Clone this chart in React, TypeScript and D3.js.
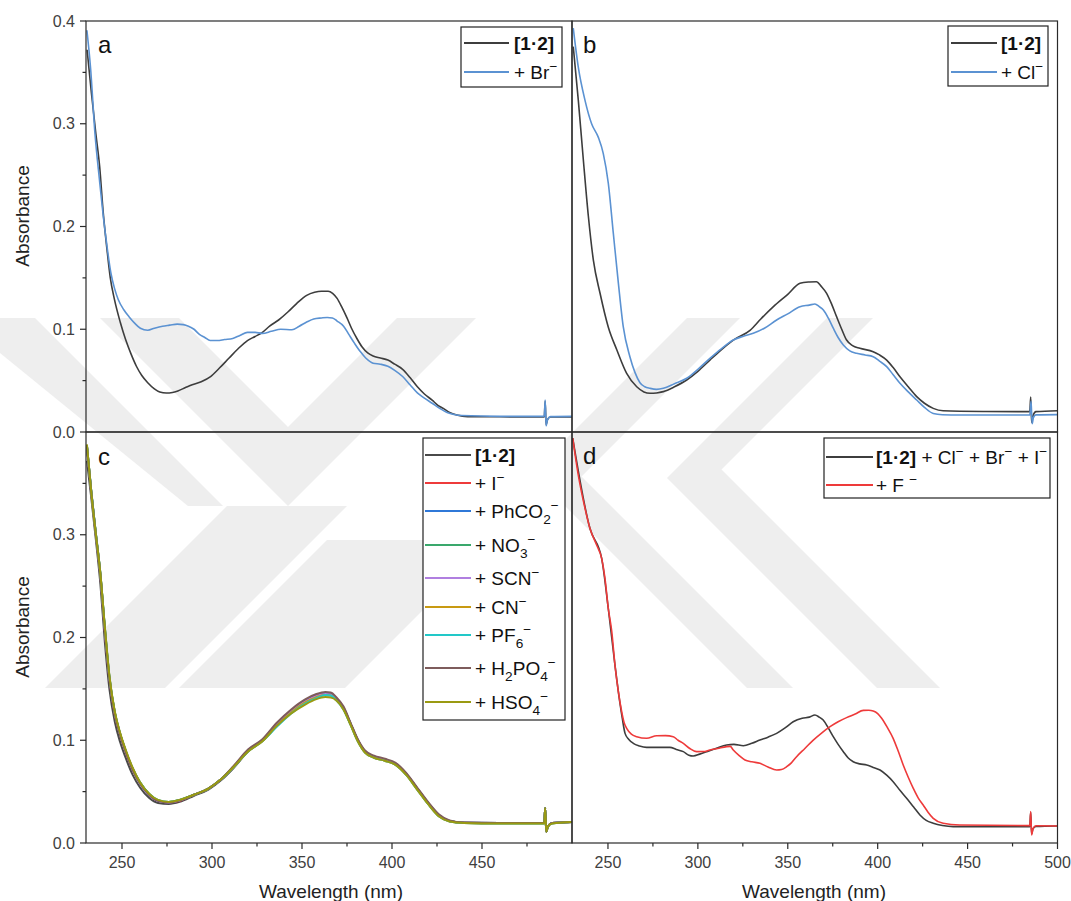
import React from 'react';
import * as d3 from 'd3';

type Pt = [number, number];

const X_DOMAIN: [number, number] = [230, 500];
const Y_DOMAIN: [number, number] = [0, 0.4];
const Y_TICKS = [0, 0.1, 0.2, 0.3, 0.4];
const Y_MINOR = [0.05, 0.15, 0.25, 0.35];
const X_TICKS = [250, 300, 350, 400, 450, 500];
const X_MINOR = [275, 325, 375, 425, 475];

// Panel a
const A_COMPLEX: Pt[] = [[230.6, 0.372], [233, 0.33], [235.5, 0.29], [237.6, 0.258], [239.5, 0.215], [241.7, 0.177], [243.5, 0.150], [245.8, 0.129], [249, 0.107], [252, 0.090], [255, 0.076], [258, 0.064], [261, 0.055], [264.3, 0.048], [268, 0.042], [271, 0.039], [274.6, 0.038], [278, 0.0385], [281, 0.040], [285, 0.043], [289, 0.046], [294, 0.049], [299.2, 0.054], [304, 0.062], [309.5, 0.072], [314.5, 0.081], [319.7, 0.089], [324, 0.093], [328, 0.097], [332, 0.103], [337, 0.109], [342.3, 0.117], [347, 0.125], [352.6, 0.133], [357, 0.136], [360.8, 0.137], [364.5, 0.137], [367, 0.135], [369.5, 0.130], [372, 0.122], [375, 0.111], [377.5, 0.101], [380.5, 0.091], [383.3, 0.083], [386.5, 0.077], [389.5, 0.074], [393.5, 0.072], [397.7, 0.070], [401.5, 0.066], [405.9, 0.061], [410, 0.053], [414.1, 0.044], [418, 0.037], [422.3, 0.031], [425.5, 0.026], [428.5, 0.023], [432, 0.019], [436, 0.0165], [442, 0.015], [460, 0.0148], [484.6, 0.0146], [485.1, 0.030], [485.6, 0.007], [486.4, 0.012], [488, 0.0146], [500, 0.0146]];
const A_BR: Pt[] = [[230.5, 0.391], [232.5, 0.355], [235, 0.29], [237.5, 0.245], [239.6, 0.21], [241.5, 0.183], [243.8, 0.155], [245.8, 0.140], [247.9, 0.129], [251, 0.119], [254, 0.112], [257, 0.106], [260.2, 0.101], [264.3, 0.099], [268, 0.101], [272.5, 0.103], [276.5, 0.104], [280.7, 0.105], [284, 0.1045], [286.9, 0.103], [290, 0.100], [293, 0.095], [296, 0.092], [299, 0.089], [303, 0.089], [307, 0.090], [311.5, 0.091], [315.5, 0.094], [319.7, 0.097], [324, 0.097], [328, 0.096], [333, 0.098], [338.2, 0.100], [344.4, 0.0995], [348.5, 0.103], [352.6, 0.107], [356.5, 0.110], [360.8, 0.111], [364, 0.1115], [366.9, 0.111], [369.5, 0.108], [373.1, 0.103], [376, 0.095], [379.3, 0.086], [382.5, 0.078], [385.4, 0.072], [389.5, 0.067], [393.5, 0.066], [397.7, 0.064], [401.5, 0.060], [405.9, 0.054], [410, 0.046], [414.1, 0.038], [418, 0.033], [422.3, 0.028], [426.5, 0.023], [430.6, 0.019], [434.5, 0.017], [438.8, 0.016], [460, 0.0152], [484.6, 0.0152], [485.1, 0.031], [485.6, 0.006], [486.4, 0.012], [488, 0.015], [500, 0.0152]];

// Panel b
const B_COMPLEX: Pt[] = [[230.7, 0.375], [233.5, 0.323], [236.3, 0.265], [239.1, 0.210], [241.9, 0.167], [245.6, 0.135], [250.2, 0.102], [254.9, 0.080], [260.4, 0.057], [266, 0.044], [270, 0.039], [273.4, 0.0377], [277, 0.038], [280.8, 0.0393], [287, 0.044], [293.8, 0.0506], [300, 0.059], [306.7, 0.070], [313, 0.080], [319.7, 0.0895], [329, 0.099], [335, 0.110], [342, 0.122], [350, 0.134], [356.8, 0.1447], [362, 0.146], [366, 0.1463], [368.5, 0.142], [371.6, 0.135], [374.5, 0.124], [377.2, 0.112], [380, 0.100], [382.7, 0.0895], [386, 0.084], [390.1, 0.0814], [397.5, 0.0782], [401, 0.075], [405, 0.070], [408.5, 0.063], [412.4, 0.0538], [417, 0.044], [421.7, 0.0344], [426, 0.028], [430.9, 0.023], [436.4, 0.0207], [460, 0.020], [484.6, 0.0198], [485.1, 0.034], [485.6, 0.0094], [486.4, 0.016], [488, 0.0198], [500, 0.0207]];
const B_CL: Pt[] = [[230.7, 0.393], [233.5, 0.355], [237.2, 0.323], [240.9, 0.300], [244.6, 0.287], [247.4, 0.271], [250.2, 0.242], [253, 0.193], [255.8, 0.1447], [258.5, 0.1025], [262.2, 0.0733], [265, 0.058], [267.8, 0.048], [270.5, 0.044], [273.4, 0.0425], [277, 0.0415], [280.8, 0.0425], [287, 0.047], [293.8, 0.0523], [300, 0.061], [306.7, 0.0717], [313, 0.081], [319.7, 0.0895], [325, 0.093], [330.8, 0.096], [337, 0.101], [343.8, 0.109], [350, 0.115], [356.8, 0.122], [362, 0.1235], [365.1, 0.1246], [367.5, 0.122], [369.8, 0.1187], [372.5, 0.111], [375.3, 0.101], [378, 0.092], [380.9, 0.0847], [384.5, 0.079], [388.3, 0.0766], [393, 0.075], [397.5, 0.0733], [401, 0.069], [405, 0.0636], [408.5, 0.056], [412.4, 0.0474], [417, 0.039], [421.7, 0.0311], [426, 0.024], [430.9, 0.018], [436, 0.0168], [445.7, 0.0165], [484.6, 0.0165], [485.3, 0.030], [485.9, 0.008], [486.6, 0.014], [488, 0.0167], [500, 0.0169]];

// Panel c (shared wavelengths)
const C_WL = [230.5, 233, 235.5, 238, 240.5, 243, 246, 249, 252, 256, 260, 265, 270, 276, 282, 290, 298, 305, 312, 320, 328, 336, 344, 352, 358, 363, 366, 369, 373, 377, 381, 385, 390, 396, 402, 408, 414, 420, 426, 432, 440, 460, 484.6, 485.1, 485.7, 486.6, 489, 500];
const C_COMPLEX = [0.372, 0.335, 0.295, 0.252, 0.195, 0.150, 0.118, 0.098, 0.083, 0.066, 0.054, 0.044, 0.039, 0.038, 0.040, 0.046, 0.052, 0.061, 0.073, 0.089, 0.100, 0.115, 0.128, 0.138, 0.143, 0.145, 0.145, 0.141, 0.132, 0.116, 0.100, 0.089, 0.084, 0.081, 0.077, 0.067, 0.053, 0.039, 0.027, 0.0215, 0.0198, 0.0195, 0.0195, 0.034, 0.011, 0.016, 0.0195, 0.0205];
const C_I = [0.386, 0.340, 0.300, 0.260, 0.206, 0.160, 0.125, 0.105, 0.089, 0.071, 0.058, 0.047, 0.041, 0.0395, 0.041, 0.047, 0.053, 0.062, 0.074, 0.090, 0.100, 0.116, 0.129, 0.139, 0.144, 0.146, 0.1455, 0.141, 0.132, 0.116, 0.100, 0.089, 0.084, 0.081, 0.077, 0.067, 0.053, 0.039, 0.027, 0.0215, 0.0198, 0.0195, 0.0195, 0.034, 0.011, 0.016, 0.0195, 0.0205];
const C_PHCO2 = [0.387, 0.341, 0.300, 0.261, 0.208, 0.161, 0.127, 0.106, 0.090, 0.072, 0.058, 0.047, 0.041, 0.0395, 0.0415, 0.047, 0.053, 0.062, 0.074, 0.090, 0.100, 0.115, 0.128, 0.138, 0.143, 0.145, 0.1445, 0.140, 0.131, 0.116, 0.100, 0.089, 0.084, 0.081, 0.077, 0.067, 0.053, 0.039, 0.027, 0.0215, 0.0198, 0.0195, 0.0195, 0.034, 0.011, 0.016, 0.0195, 0.0205];
const C_NO3 = [0.387, 0.341, 0.301, 0.262, 0.209, 0.162, 0.127, 0.106, 0.090, 0.072, 0.059, 0.048, 0.0415, 0.040, 0.042, 0.047, 0.053, 0.062, 0.074, 0.089, 0.100, 0.114, 0.127, 0.137, 0.142, 0.144, 0.1435, 0.140, 0.131, 0.116, 0.100, 0.089, 0.084, 0.081, 0.077, 0.067, 0.053, 0.039, 0.027, 0.0215, 0.0198, 0.0195, 0.0195, 0.034, 0.011, 0.016, 0.0195, 0.0205];
const C_SCN = [0.386, 0.340, 0.300, 0.261, 0.207, 0.161, 0.126, 0.106, 0.090, 0.072, 0.058, 0.047, 0.041, 0.0395, 0.0415, 0.047, 0.053, 0.062, 0.074, 0.090, 0.100, 0.115, 0.128, 0.138, 0.143, 0.145, 0.1445, 0.140, 0.131, 0.116, 0.100, 0.089, 0.084, 0.081, 0.077, 0.067, 0.053, 0.039, 0.027, 0.0215, 0.0198, 0.0195, 0.0195, 0.034, 0.011, 0.016, 0.0195, 0.0205];
const C_CN = [0.387, 0.341, 0.301, 0.262, 0.209, 0.162, 0.127, 0.106, 0.090, 0.072, 0.059, 0.048, 0.0415, 0.040, 0.042, 0.047, 0.053, 0.062, 0.074, 0.089, 0.099, 0.114, 0.127, 0.137, 0.142, 0.144, 0.1435, 0.139, 0.131, 0.115, 0.099, 0.088, 0.083, 0.080, 0.076, 0.066, 0.052, 0.038, 0.026, 0.021, 0.0195, 0.019, 0.019, 0.034, 0.011, 0.016, 0.019, 0.0205];
const C_PF6 = [0.387, 0.341, 0.301, 0.262, 0.209, 0.162, 0.127, 0.106, 0.090, 0.072, 0.059, 0.048, 0.042, 0.040, 0.042, 0.047, 0.053, 0.062, 0.074, 0.089, 0.099, 0.113, 0.126, 0.136, 0.141, 0.144, 0.1435, 0.139, 0.130, 0.115, 0.099, 0.088, 0.083, 0.080, 0.076, 0.066, 0.052, 0.038, 0.026, 0.021, 0.0195, 0.019, 0.019, 0.034, 0.011, 0.016, 0.019, 0.0205];
const C_H2PO4 = [0.386, 0.340, 0.300, 0.261, 0.207, 0.160, 0.126, 0.105, 0.089, 0.071, 0.058, 0.047, 0.041, 0.0395, 0.0415, 0.047, 0.053, 0.062, 0.075, 0.091, 0.101, 0.117, 0.130, 0.140, 0.145, 0.147, 0.1465, 0.142, 0.133, 0.117, 0.101, 0.090, 0.085, 0.082, 0.078, 0.068, 0.054, 0.040, 0.028, 0.022, 0.020, 0.0195, 0.0195, 0.034, 0.011, 0.016, 0.0195, 0.0205];
const C_HSO4 = [0.388, 0.340, 0.300, 0.262, 0.210, 0.163, 0.128, 0.107, 0.091, 0.073, 0.059, 0.048, 0.042, 0.040, 0.042, 0.047, 0.053, 0.062, 0.074, 0.089, 0.099, 0.114, 0.126, 0.135, 0.140, 0.142, 0.1415, 0.139, 0.130, 0.115, 0.099, 0.088, 0.083, 0.080, 0.076, 0.066, 0.052, 0.038, 0.026, 0.021, 0.0195, 0.019, 0.019, 0.034, 0.011, 0.016, 0.019, 0.0205];

// Panel d
const D_MIX: Pt[] = [[230.4, 0.394], [240, 0.306], [246.5, 0.277], [250.2, 0.228], [253.9, 0.173], [256.5, 0.138], [258, 0.121], [259.5, 0.1067], [261.5, 0.101], [264.1, 0.097], [267.5, 0.0945], [271.5, 0.0931], [278, 0.0931], [284.5, 0.0931], [288, 0.091], [291.9, 0.0889], [295, 0.0855], [297.4, 0.0847], [301, 0.0865], [304.9, 0.0889], [310, 0.092], [316, 0.0954], [320, 0.096], [325.3, 0.0947], [330, 0.097], [334.5, 0.1002], [339, 0.103], [343.8, 0.1067], [348.5, 0.112], [353, 0.118], [358, 0.1215], [362, 0.1225], [365.1, 0.1246], [367.5, 0.1225], [369.7, 0.1197], [372.5, 0.112], [375.3, 0.1035], [378, 0.096], [380.9, 0.0889], [383.5, 0.083], [386.4, 0.0791], [390, 0.077], [393.9, 0.0759], [397.5, 0.0735], [401.3, 0.071], [405, 0.066], [408.6, 0.0597], [412.5, 0.051], [416.1, 0.0435], [420, 0.035], [423.5, 0.0273], [427, 0.022], [430.9, 0.0192], [436, 0.017], [442, 0.0159], [484.6, 0.0159], [485.1, 0.030], [485.6, 0.009], [486.4, 0.014], [488, 0.016], [500, 0.0166]];
const D_F: Pt[] = [[230.4, 0.394], [233.5, 0.358], [237.2, 0.326], [240, 0.306], [243.7, 0.290], [246.5, 0.277], [248.3, 0.258], [250.2, 0.228], [252.1, 0.206], [253.9, 0.173], [255.8, 0.147], [257.6, 0.128], [259, 0.117], [260.4, 0.1116], [263, 0.106], [266, 0.1035], [271.5, 0.1019], [277.1, 0.1044], [282, 0.1045], [286.3, 0.1035], [289, 0.100], [291.9, 0.097], [295.5, 0.092], [299.3, 0.0889], [303, 0.089], [306.7, 0.0905], [311, 0.092], [316, 0.0938], [318, 0.094], [319.7, 0.0905], [323, 0.085], [326.2, 0.0808], [330, 0.079], [334.5, 0.0776], [339, 0.074], [343.8, 0.071], [346.5, 0.0715], [349.4, 0.0743], [352, 0.078], [354.9, 0.084], [359.5, 0.092], [364.2, 0.1002], [368.8, 0.107], [373.5, 0.1132], [378, 0.118], [382.7, 0.122], [387.5, 0.1255], [392, 0.1291], [395, 0.1292], [397.5, 0.1285], [400, 0.126], [402.2, 0.1214], [405.5, 0.112], [408.6, 0.1019], [411.5, 0.089], [414.2, 0.0759], [417, 0.064], [419.8, 0.0532], [422.5, 0.044], [425.3, 0.037], [428, 0.030], [430.9, 0.024], [436.4, 0.0192], [445.7, 0.0175], [484.6, 0.0169], [485.1, 0.0305], [485.6, 0.0078], [486.4, 0.014], [488, 0.0168], [500, 0.0166]];

type Seg = { t: string; k?: 'b' | 'sub' | 'sup' };
const LBL_COMPLEX: Seg[] = [{ t: '[1·2]', k: 'b' }];
const LBL_BR: Seg[] = [{ t: '+ Br' }, { t: '−', k: 'sup' }];
const LBL_CL: Seg[] = [{ t: '+ Cl' }, { t: '−', k: 'sup' }];
const LBL_C: Seg[][] = [
  [{ t: '[1·2]', k: 'b' }],
  [{ t: '+ I' }, { t: '−', k: 'sup' }],
  [{ t: '+ PhCO' }, { t: '2', k: 'sub' }, { t: '−', k: 'sup' }],
  [{ t: '+ NO' }, { t: '3', k: 'sub' }, { t: '−', k: 'sup' }],
  [{ t: '+ SCN' }, { t: '−', k: 'sup' }],
  [{ t: '+ CN' }, { t: '−', k: 'sup' }],
  [{ t: '+ PF' }, { t: '6', k: 'sub' }, { t: '−', k: 'sup' }],
  [{ t: '+ H' }, { t: '2', k: 'sub' }, { t: 'PO' }, { t: '4', k: 'sub' }, { t: '−', k: 'sup' }],
  [{ t: '+ HSO' }, { t: '4', k: 'sub' }, { t: '−', k: 'sup' }],
];
const LBL_MIX: Seg[] = [{ t: '[1·2]', k: 'b' }, { t: ' + Cl' }, { t: '−', k: 'sup' }, { t: ' + Br' }, { t: '−', k: 'sup' }, { t: ' + I' }, { t: '−', k: 'sup' }];
const LBL_F: Seg[] = [{ t: '+ F ' }, { t: '−', k: 'sup' }];

const C_COLORS = ['#4a4a4a', '#ee3b3b', '#2f78d8', '#3aa86c', '#b07fe0', '#c89a12', '#22c8c8', '#7e5c5c', '#9a9a12'];
const C_VALUES = [C_COMPLEX, C_I, C_PHCO2, C_NO3, C_SCN, C_CN, C_PF6, C_H2PO4, C_HSO4];

const FONT = '"Liberation Sans", Arial, Helvetica, sans-serif';
const GREY = '#3d3d3d';
const BLUE = '#5b92d2';
const RED = '#ee3a3a';
const LEG_SIZE = 19;

const L = 86, M = 572, R = 1057.5, T = 21, H = 432, B = 843;

function Rich({ x, y, segs, size }: { x: number; y: number; segs: Seg[]; size: number }) {
  let cur = 0;
  return (
    <text x={x} y={y} fontSize={size} fill="#111" fontFamily={FONT}>
      {segs.map((s, i) => {
        const small = s.k === 'sub' || s.k === 'sup';
        const target = s.k === 'sub' ? size * 0.32 : s.k === 'sup' ? -size * 0.42 : 0;
        const dy = target - cur;
        cur = target;
        return (
          <tspan key={i} dy={dy} fontSize={small ? size * 0.72 : size} fontWeight={s.k === 'b' ? 'bold' : 'normal'}>
            {s.t}
          </tspan>
        );
      })}
    </text>
  );
}

type Series = { pts: Pt[]; color: string; width: number };
type LegendItem = { segs: Seg[]; color: string; y: number };

function Panel(props: {
  id: string; x0: number; x1: number; y0: number; y1: number;
  series: Series[]; letter: string; letterX: number; letterY: number;
  legendBox: [number, number, number, number]; legendLine: [number, number]; legendText: number; legend: LegendItem[];
}) {
  const { id, x0, x1, y0, y1, series } = props;
  const xs = d3.scaleLinear().domain(X_DOMAIN).range([x0, x1]);
  const ys = d3.scaleLinear().domain(Y_DOMAIN).range([y1, y0]);
  const line = d3.line<Pt>().x((d) => xs(d[0])).y((d) => ys(d[1])).curve(d3.curveMonotoneX);
  const [bx, by, bw, bh] = props.legendBox;
  return (
    <g>
      <defs>
        <clipPath id={'clip-' + id}>
          <rect x={x0} y={y0} width={x1 - x0} height={y1 - y0} />
        </clipPath>
      </defs>
      <g clipPath={`url(#clip-${id})`}>
        {series.map((s, i) => (
          <path key={i} d={line(s.pts) || ''} fill="none" stroke={s.color} strokeWidth={s.width} strokeLinejoin="round" />
        ))}
      </g>
      <text x={props.letterX} y={props.letterY} fontSize={24} fontFamily={FONT} fill="#111">{props.letter}</text>
      <rect x={bx} y={by} width={bw} height={bh} fill="#fff" stroke="#222" strokeWidth={1.2} />
      {props.legend.map((it, i) => (
        <g key={i}>
          <line x1={props.legendLine[0]} x2={props.legendLine[1]} y1={it.y} y2={it.y} stroke={it.color} strokeWidth={2} />
          <Rich x={props.legendText} y={it.y + 6.5} segs={it.segs} size={LEG_SIZE} />
        </g>
      ))}
    </g>
  );
}

export default function App() {
  const ysTop = d3.scaleLinear().domain(Y_DOMAIN).range([H, T]);
  const ysBot = d3.scaleLinear().domain(Y_DOMAIN).range([B, H]);
  const xsL = d3.scaleLinear().domain(X_DOMAIN).range([L, M]);
  const xsR = d3.scaleLinear().domain(X_DOMAIN).range([M, R]);
  const fmt = d3.format('.1f');

  const cSeries: Series[] = C_VALUES.map((vals, i) => ({
    pts: C_WL.map((w, j) => [w, vals[j]] as Pt),
    color: C_COLORS[i],
    width: 2,
  }));
  const cRows = [455, 483, 511, 545, 578, 607, 635, 668, 702];

  const wm = '#eeeeee';
  return (
    <svg width={1071} height={901} style={{ position: 'absolute', left: 0, top: 0, background: '#fff' }}>
      <rect x={0} y={0} width={1071} height={901} fill="#fff" />
      {/* faint background watermark */}
      <g fill={wm}>
        <polygon points="100,318 179,318 288,427 397,318 476,318 288,506" />
        <polygon points="0,318 35,318 223,506 188,506 0,353" />
        <polygon points="227,506 347,506 165,688 45,688" />
        <polygon points="327,540 493,540 345,688 179,688" />
        <polygon points="827,318 873,318 721.5,469.5 940,688 877,688 667,478" />
        <polygon points="687,318 740,318 581.5,476.5 793,688 747,688 532,473" />
      </g>

      <Panel id="a" x0={L} x1={M} y0={T} y1={H}
        series={[{ pts: A_COMPLEX, color: GREY, width: 1.6 }, { pts: A_BR, color: BLUE, width: 1.6 }]}
        letter="a" letterX={98} letterY={53}
        legendBox={[461, 27, 101, 60]} legendLine={[464, 509]} legendText={514}
        legend={[{ segs: LBL_COMPLEX, color: GREY, y: 43 }, { segs: LBL_BR, color: BLUE, y: 72 }]} />
      <Panel id="b" x0={M} x1={R} y0={T} y1={H}
        series={[{ pts: B_COMPLEX, color: GREY, width: 1.6 }, { pts: B_CL, color: BLUE, width: 1.6 }]}
        letter="b" letterX={583} letterY={53}
        legendBox={[948, 26, 100, 60]} legendLine={[951, 997]} legendText={1001}
        legend={[{ segs: LBL_COMPLEX, color: GREY, y: 43 }, { segs: LBL_CL, color: BLUE, y: 72 }]} />
      <Panel id="c" x0={L} x1={M} y0={H} y1={B}
        series={cSeries}
        letter="c" letterX={98} letterY={465}
        legendBox={[423, 438, 142, 282]} legendLine={[425, 471]} legendText={475}
        legend={LBL_C.map((segs, i) => ({ segs, color: C_COLORS[i], y: cRows[i] }))} />
      <Panel id="d" x0={M} x1={R} y0={H} y1={B}
        series={[{ pts: D_MIX, color: GREY, width: 1.6 }, { pts: D_F, color: RED, width: 1.6 }]}
        letter="d" letterX={583} letterY={464}
        legendBox={[824, 438, 226, 60]} legendLine={[826, 873]} legendText={876}
        legend={[{ segs: LBL_MIX, color: GREY, y: 457 }, { segs: LBL_F, color: RED, y: 485 }]} />

      {/* frames */}
      <g fill="none" stroke="#2a2a2a" strokeWidth={1.2}>
        <rect x={L} y={T} width={M - L} height={H - T} />
        <rect x={M} y={T} width={R - M} height={H - T} />
        <rect x={L} y={H} width={M - L} height={B - H} />
        <rect x={M} y={H} width={R - M} height={B - H} />
      </g>

      {/* y axes */}
      <g fontFamily={FONT} fontSize={16} fill="#404040">
        {Y_TICKS.map((v) => (
          <g key={'yt' + v}>
            <line x1={L - 6} x2={L} y1={ysTop(v)} y2={ysTop(v)} stroke="#2a2a2a" strokeWidth={1.2} />
            <text x={75} y={ysTop(v) + 5.5} textAnchor="end">{fmt(v)}</text>
          </g>
        ))}
        {Y_MINOR.map((v) => (
          <line key={'ym' + v} x1={L - 3.5} x2={L} y1={ysTop(v)} y2={ysTop(v)} stroke="#2a2a2a" strokeWidth={1.2} />
        ))}
        {Y_TICKS.filter((v) => v < 0.4).map((v) => (
          <g key={'yb' + v}>
            <line x1={L - 6} x2={L} y1={ysBot(v)} y2={ysBot(v)} stroke="#2a2a2a" strokeWidth={1.2} />
            <text x={75} y={ysBot(v) + 5.5} textAnchor="end">{fmt(v)}</text>
          </g>
        ))}
        {Y_MINOR.map((v) => (
          <line key={'ybm' + v} x1={L - 3.5} x2={L} y1={ysBot(v)} y2={ysBot(v)} stroke="#2a2a2a" strokeWidth={1.2} />
        ))}
      </g>

      {/* x axes */}
      <g fontFamily={FONT} fontSize={16} fill="#404040">
        {X_TICKS.filter((v) => v < 500).map((v) => (
          <g key={'xl' + v}>
            <line x1={xsL(v)} x2={xsL(v)} y1={B} y2={B + 6} stroke="#2a2a2a" strokeWidth={1.2} />
            <text x={xsL(v)} y={868} textAnchor="middle">{v}</text>
          </g>
        ))}
        {X_TICKS.map((v) => (
          <g key={'xr' + v}>
            <line x1={xsR(v)} x2={xsR(v)} y1={B} y2={B + 6} stroke="#2a2a2a" strokeWidth={1.2} />
            <text x={xsR(v)} y={868} textAnchor="middle">{v}</text>
          </g>
        ))}
        {X_MINOR.map((v) => (
          <g key={'xm' + v}>
            <line x1={xsL(v)} x2={xsL(v)} y1={B} y2={B + 3.5} stroke="#2a2a2a" strokeWidth={1.2} />
            <line x1={xsR(v)} x2={xsR(v)} y1={B} y2={B + 3.5} stroke="#2a2a2a" strokeWidth={1.2} />
          </g>
        ))}
      </g>

      {/* axis titles */}
      <g fontFamily={FONT} fontSize={19} fill="#222">
        <text transform={`translate(29,${216}) rotate(-90)`} textAnchor="middle">Absorbance</text>
        <text transform={`translate(29,${627}) rotate(-90)`} textAnchor="middle">Absorbance</text>
        <text x={331} y={898} textAnchor="middle">Wavelength (nm)</text>
        <text x={814} y={898} textAnchor="middle">Wavelength (nm)</text>
      </g>
    </svg>
  );
}
